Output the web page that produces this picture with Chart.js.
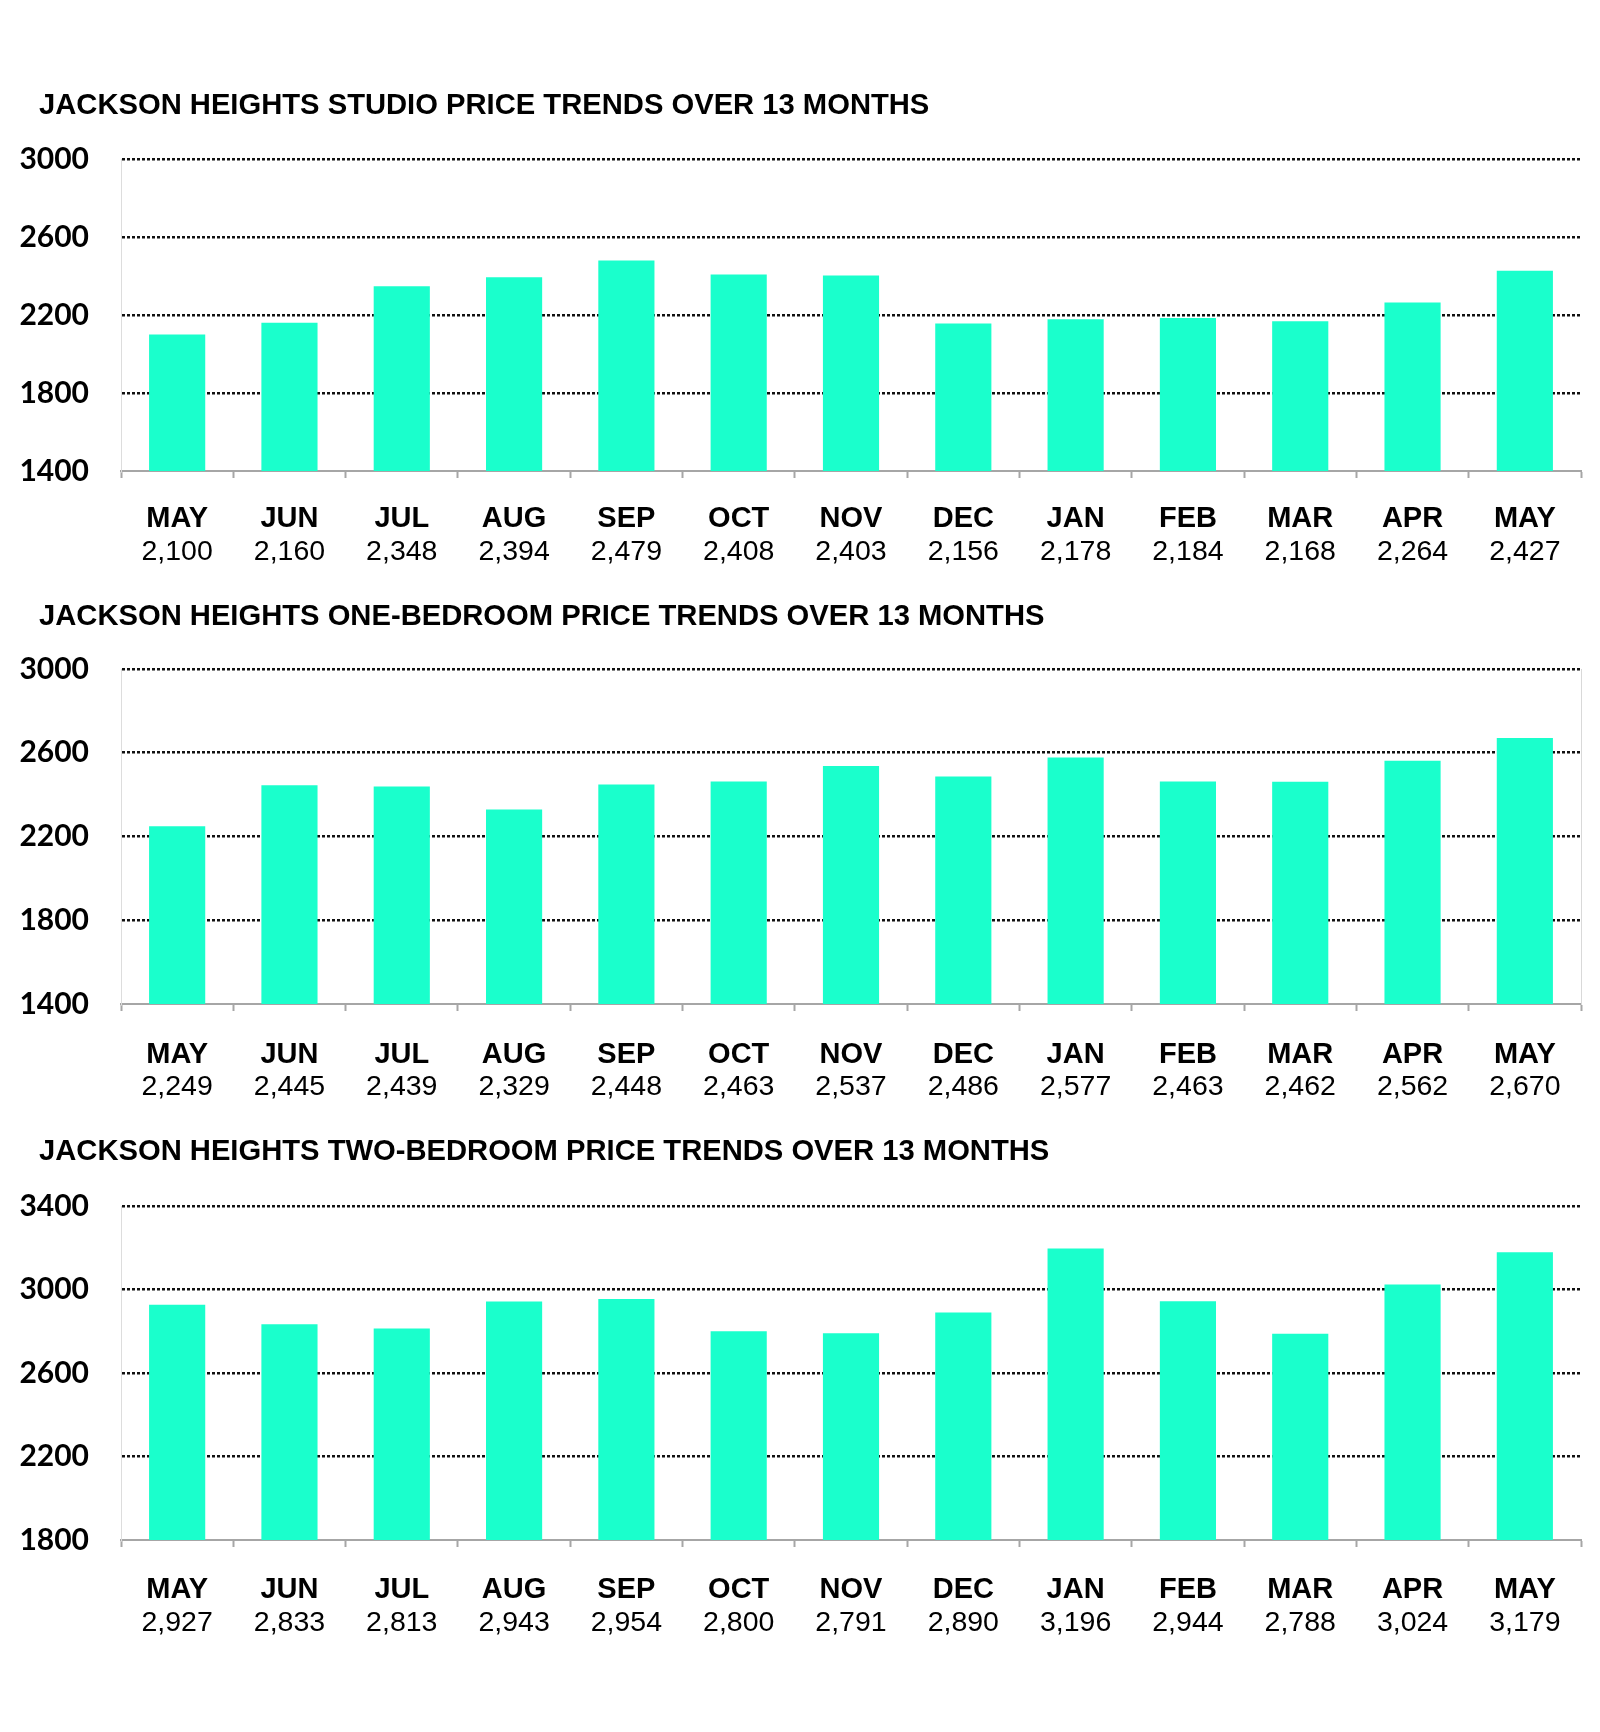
<!DOCTYPE html>
<html><head><meta charset="utf-8">
<script src="https://cdn.jsdelivr.net/npm/chart.js@4/dist/chart.umd.min.js"></script>
<style>
html,body{margin:0;padding:0;background:#fff;}
body{width:1600px;height:1732px;position:relative;overflow:hidden;}
.title{position:absolute;left:39px;font-family:'Liberation Sans',Arial,sans-serif;font-weight:bold;font-size:29.2px;line-height:34px;color:#000;white-space:nowrap;z-index:2;}
.box{position:absolute;left:0;width:1600px;z-index:1;}
canvas{display:block;}
</style></head><body>
<div class="box" style="top:109px;height:464px"><canvas id="c1" width="1600" height="464"></canvas></div>
<div class="box" style="top:619px;height:487px"><canvas id="c2" width="1600" height="487"></canvas></div>
<div class="box" style="top:1156px;height:486px"><canvas id="c3" width="1600" height="486"></canvas></div>
<div class="title" style="top:87px">JACKSON HEIGHTS STUDIO PRICE TRENDS OVER 13 MONTHS</div>
<div class="title" style="top:598px">JACKSON HEIGHTS ONE-BEDROOM PRICE TRENDS OVER 13 MONTHS</div>
<div class="title" style="top:1133px">JACKSON HEIGHTS TWO-BEDROOM PRICE TRENDS OVER 13 MONTHS</div>
<script>
const months = ['MAY','JUN','JUL','AUG','SEP','OCT','NOV','DEC','JAN','FEB','MAR','APR','MAY'];
const studioValues = [2100,2160,2348,2394,2479,2408,2403,2156,2178,2184,2168,2264,2427];
const oneBedValues = [2249,2445,2439,2329,2448,2463,2537,2486,2577,2463,2462,2562,2670];
const twoBedValues = [2927,2833,2813,2943,2954,2800,2791,2890,3196,2944,2788,3024,3179];
const studioYTicks = [1400,1800,2200,2600,3000];
const oneBedYTicks = [1400,1800,2200,2600,3000];
const twoBedYTicks = [1800,2200,2600,3000,3400];

const BAR = '#1AFFCC';
const AXIS_GRAY = '#A6A6A6';

function makeChart(id, values, yTicks, monthPad, valuePad, rightBorder) {
  const yMin = yTicks[0], yMax = yTicks[yTicks.length - 1];
  const step = yTicks[1] - yTicks[0];
  const valueLabels = values.map(v => v.toLocaleString('en-US'));
  const scales = {
    x: {
      type: 'category',
      labels: months,
      position: 'bottom',
      weight: 0,
      offset: true,
      grid: { display: true, offset: true, drawOnChartArea: false, drawTicks: true, tickLength: 7, tickColor: AXIS_GRAY, tickWidth: 2, color: AXIS_GRAY },
      border: { display: true, color: AXIS_GRAY, width: 2 },
      ticks: { color: '#000', padding: monthPad, maxRotation: 0, autoSkip: false,
        font: { family: "'Liberation Sans', Arial, sans-serif", weight: 'bold', size: 29, lineHeight: 1.2 } },
      afterFit: s => { s.height = 62; }
    },
    x2: {
      type: 'category',
      labels: valueLabels,
      position: 'bottom',
      weight: 1,
      offset: true,
      grid: { display: false, drawTicks: false },
      border: { display: false },
      ticks: { color: '#000', padding: valuePad, maxRotation: 0, autoSkip: false,
        font: { family: "'Liberation Sans', Arial, sans-serif", weight: 'normal', size: 28.5, lineHeight: 1.2 } },
      afterFit: s => { s.height = 40; }
    },
    y: {
      type: 'linear',
      position: 'left',
      min: yMin, max: yMax,
      afterBuildTicks: s => { s.ticks = yTicks.map(v => ({ value: v })); },
      ticks: { stepSize: step, color: '#000', padding: 32,
        callback: v => String(v),
        font: { family: "Lato, 'Open Sans', sans-serif", weight: 'bold', size: 30 } },
      grid: {
        drawTicks: false,
        lineWidth: 2.6,
        color: c => (c.tick && c.tick.value === yMin) ? 'rgba(0,0,0,0)' : '#111',
        borderDash: [3, 2]
      },
      border: { display: true, color: '#DDDDDD', width: 1, dash: [3, 2] },
      afterFit: s => { s.width = 121; }
    }
  };
  if (rightBorder) {
    scales.yr = {
      type: 'linear', position: 'right', min: yMin, max: yMax,
      ticks: { display: false, padding: 0 }, grid: { display: false, drawTicks: false },
      border: { display: true, color: '#D9D9D9', width: 1 },
      afterFit: s => { s.width = 0; }
    };
  }
  return new Chart(document.getElementById(id), {
    type: 'bar',
    data: {
      labels: months,
      datasets: [{ data: values, backgroundColor: BAR, borderWidth: 0, barPercentage: 0.5, categoryPercentage: 1.0, xAxisID: 'x', yAxisID: 'y' }]
    },
    options: {
      responsive: false,
      animation: false,
      devicePixelRatio: 1,
      layout: { padding: { left: 0, right: 19, top: 50, bottom: 0 } },
      plugins: { legend: { display: false }, tooltip: { enabled: false }, title: { display: false } },
      scales: scales
    }
  });
}

makeChart('c1', studioValues, studioYTicks, 24, 2, false);
makeChart('c2', oneBedValues, oneBedYTicks, 27, 4, true);
makeChart('c3', twoBedValues, twoBedYTicks, 26, 4, false);
</script>
</body></html>
